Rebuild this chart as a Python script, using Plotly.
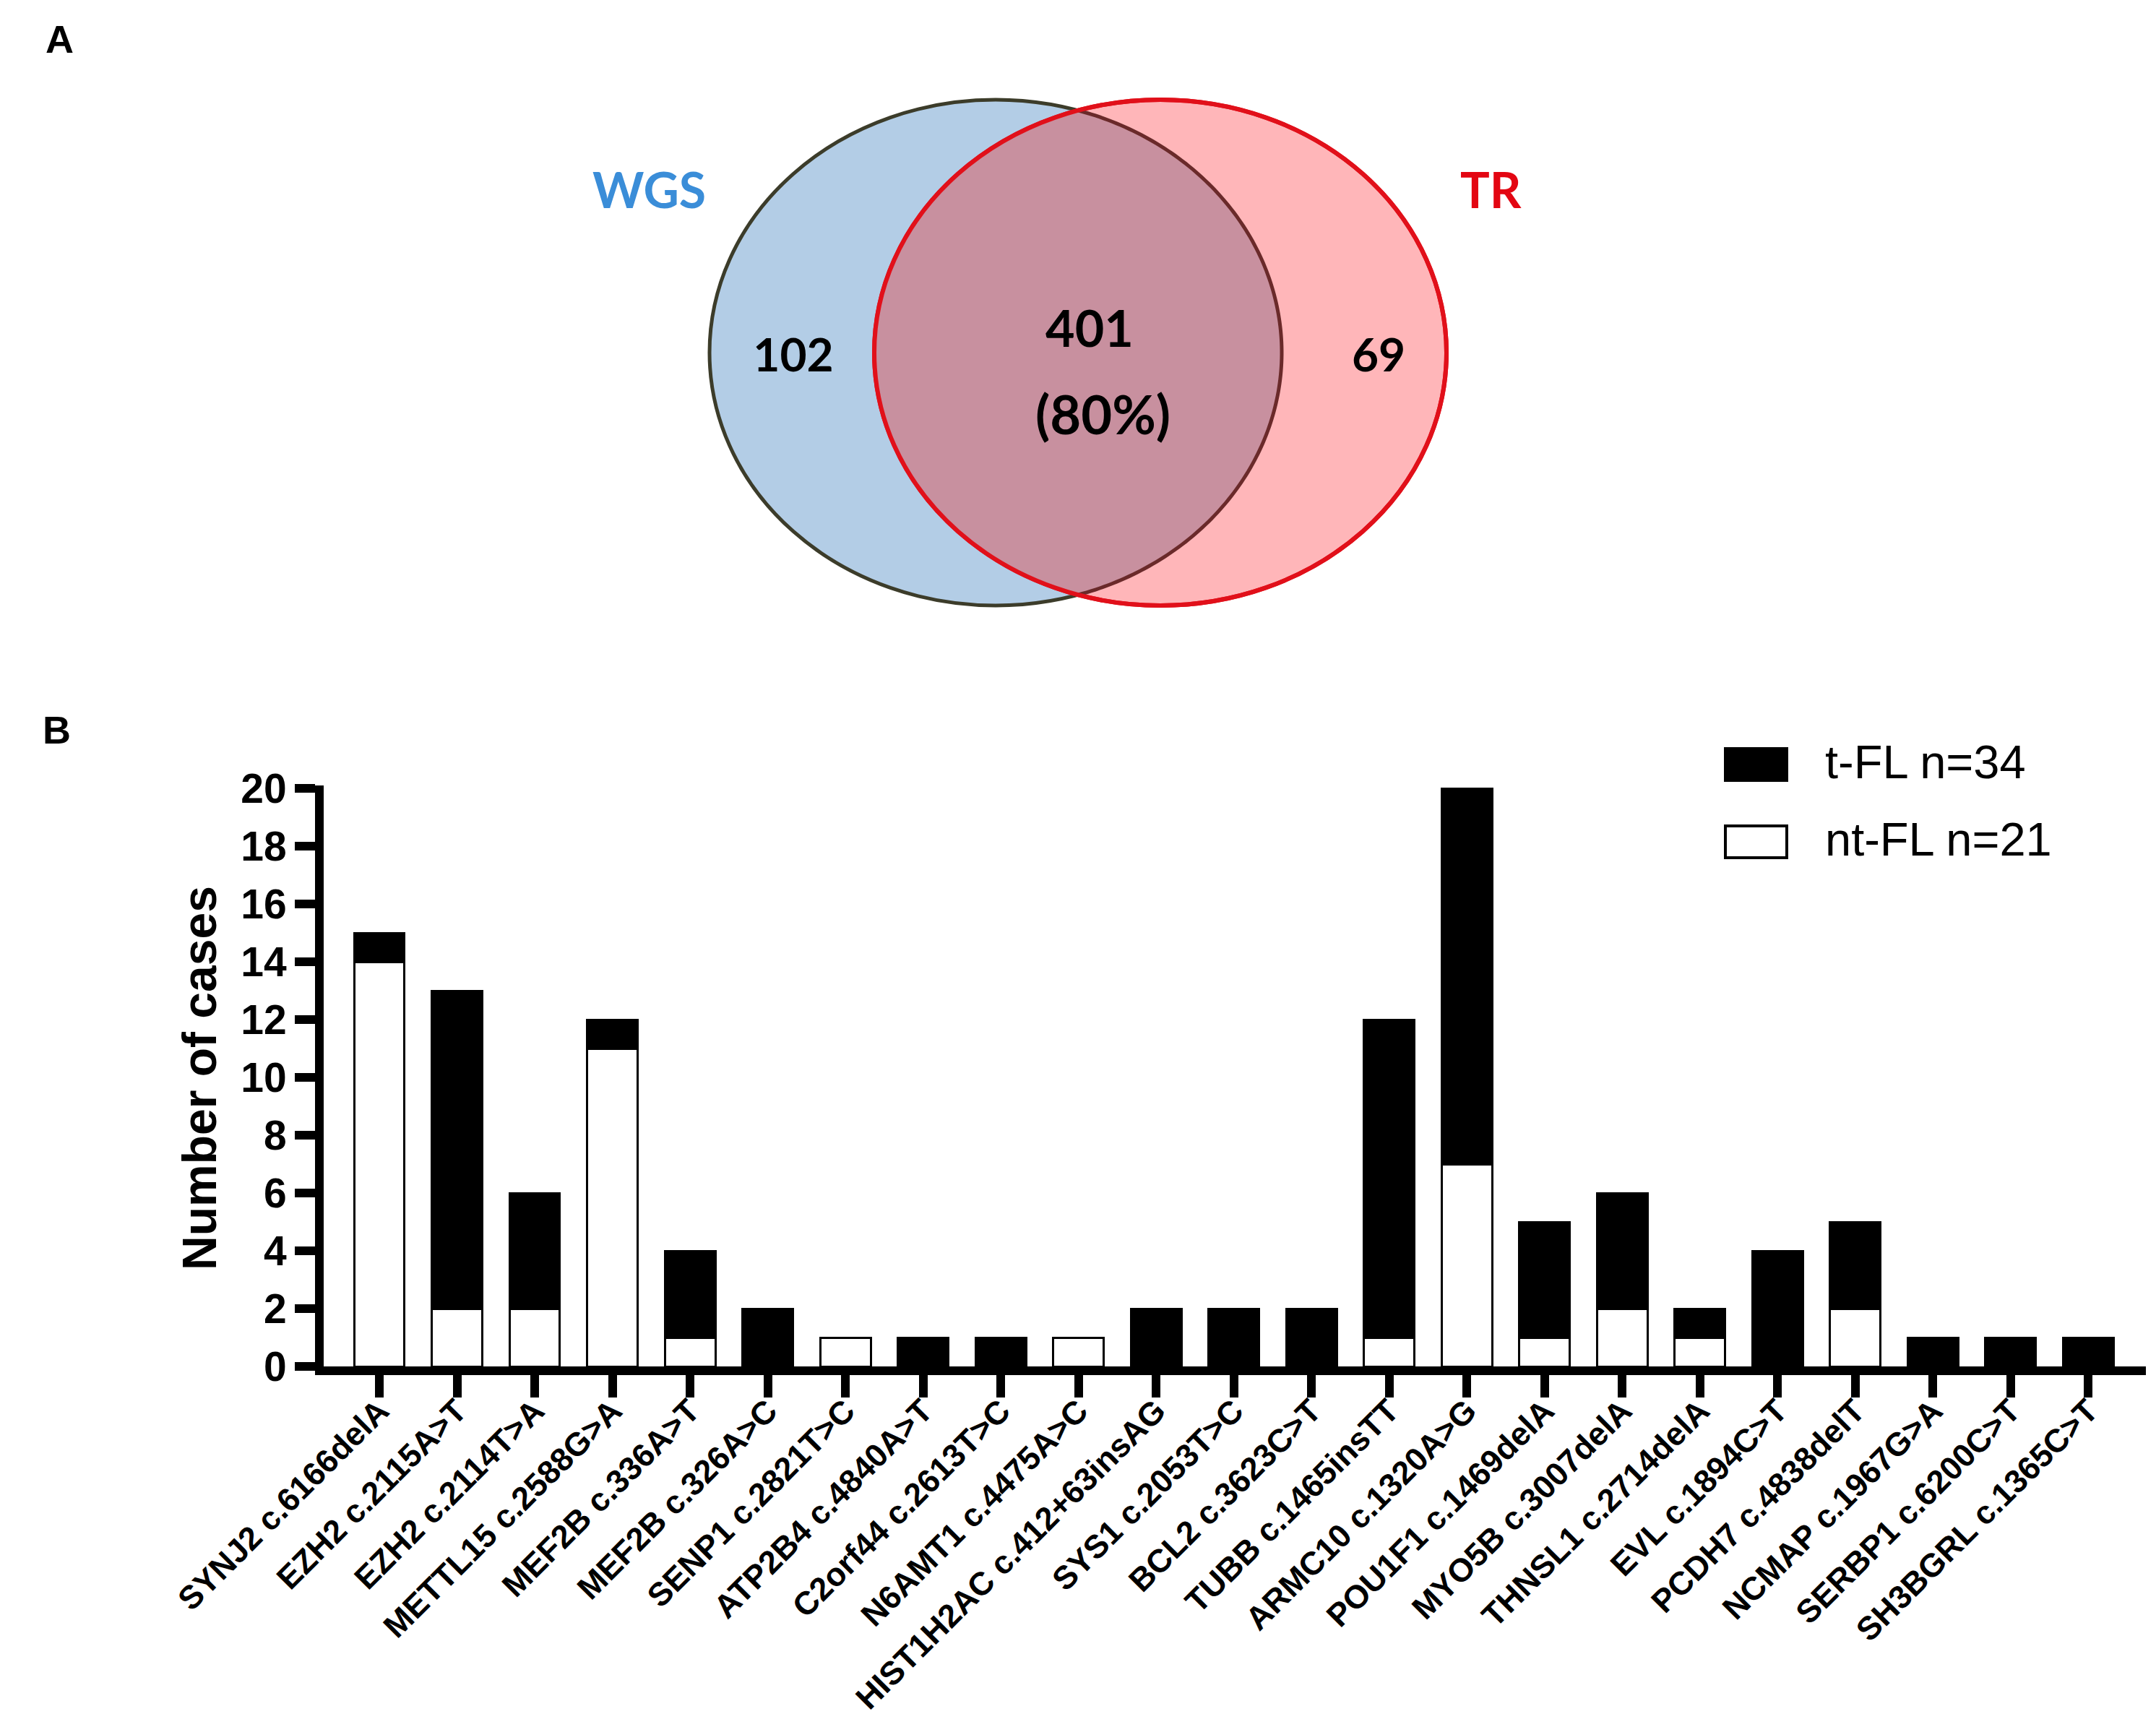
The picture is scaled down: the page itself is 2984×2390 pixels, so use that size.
import numpy as np
import plotly.graph_objects as go

W, H = 2984, 2390

# ---------------- data ----------------
mutations = [
    "SYNJ2 c.6166delA", "EZH2 c.2115A>T", "EZH2 c.2114T>A", "METTL15 c.2588G>A",
    "MEF2B c.336A>T", "MEF2B c.326A>C", "SENP1 c.2821T>C", "ATP2B4 c.4840A>T",
    "C2orf44 c.2613T>C", "N6AMT1 c.4475A>C", "HIST1H2AC c.412+63insAG",
    "SYS1 c.2053T>C", "BCL2 c.3623C>T", "TUBB c.1465insTT", "ARMC10 c.1320A>G",
    "POU1F1 c.1469delA", "MYO5B c.3007delA", "THNSL1 c.2714delA", "EVL c.1894C>T",
    "PCDH7 c.4838delT", "NCMAP c.1967G>A", "SERBP1 c.6200C>T", "SH3BGRL c.1365C>T",
]
nt_fl = [14, 2, 2, 11, 1, 0, 1, 0, 0, 1, 0, 0, 0, 1, 7, 1, 2, 1, 0, 2, 0, 0, 0]
t_fl = [1, 11, 4, 1, 3, 2, 0, 1, 1, 0, 2, 2, 2, 11, 13, 4, 4, 1, 4, 3, 1, 1, 1]
y_ticks = [0, 2, 4, 6, 8, 10, 12, 14, 16, 18, 20]
series_names = ["t-FL n=34", "nt-FL n=21"]

venn_sets = ["WGS", "TR"]
venn_counts = [102, 401, 69]  # WGS only, shared, TR only
shared_pct = round(100 * venn_counts[1] / (venn_counts[0] + venn_counts[1]))

# ---------------- styles ----------------
BAR_FONT = "Arial, 'Liberation Sans', sans-serif"
VENN_FONT = "Lato, Carlito, Calibri, sans-serif"
BLUE_FILL = "#B3CDE6"
PINK_FILL = "#FFB6B9"
LENS_FILL = "#C8909F"
OLIVE = "#3C3C2A"
RED = "#E1101A"


def px(xp):
    return xp / W


def py(yp):
    return 1 - yp / H


fig = go.Figure()

# ---------------- panel B bars ----------------
fig.add_trace(go.Bar(
    x=mutations, y=nt_fl, name=series_names[1], width=0.65,
    marker=dict(color="white", line=dict(color="black", width=3)),
    showlegend=False, xaxis="x", yaxis="y",
))
fig.add_trace(go.Bar(
    x=mutations, y=t_fl, name=series_names[0], width=0.65,
    marker=dict(color="black", line=dict(color="black", width=3)),
    showlegend=False, xaxis="x", yaxis="y",
))

# ---------------- panel A venn (pixel-unit axes) ----------------
cxL, cxR, cy, rx, ry = 1370, 1598, 480, 396, 350
xm = (cxL + cxR) / 2
t0 = np.arccos((xm - cxL) / rx)
tl = np.linspace(-t0, t0, 160)
tr = np.linspace(np.pi - t0, np.pi + t0, 160)
lx = cxL + rx * np.cos(tl)
ly = cy + ry * np.sin(tl)
rxs = cxR + rx * np.cos(tr)
rys = cy + ry * np.sin(tr)


def path_from(xs, ys, close=False):
    s = "M " + " L ".join(f"{a:.2f},{b:.2f}" for a, b in zip(xs, ys))
    return s + (" Z" if close else "")


lens_path = path_from(np.concatenate([lx, rxs]), np.concatenate([ly, rys]), close=True)
arc_path = path_from(lx, ly)

shapes = [
    dict(type="circle", xref="x2", yref="y2", layer="below",
         x0=cxL - rx, x1=cxL + rx, y0=cy - ry, y1=cy + ry,
         fillcolor=BLUE_FILL, line=dict(color=OLIVE, width=5)),
    dict(type="circle", xref="x2", yref="y2", layer="below",
         x0=cxR - rx, x1=cxR + rx, y0=cy - ry, y1=cy + ry,
         fillcolor=PINK_FILL, line=dict(color=RED, width=6)),
    dict(type="path", xref="x2", yref="y2", layer="below", path=lens_path,
         fillcolor=LENS_FILL, line=dict(width=0)),
    dict(type="path", xref="x2", yref="y2", layer="below", path=arc_path,
         line=dict(color="#6A2A2A", width=5)),
    dict(type="circle", xref="x2", yref="y2", layer="below",
         x0=cxR - rx, x1=cxR + rx, y0=cy - ry, y1=cy + ry,
         fillcolor="rgba(0,0,0,0)", line=dict(color=RED, width=6)),
]

fig.add_trace(go.Scatter(
    x=[1090, 1500, 1900], y=[490, 454, 490],
    text=[str(v) for v in venn_counts], mode="text",
    textfont=dict(family=VENN_FONT, size=[64, 70, 64], color="black", weight="bold"),
    textposition="middle center", hoverinfo="skip", showlegend=False,
    xaxis="x2", yaxis="y2",
))

annotations = [
    dict(x=1518, y=564, xref="x2", yref="y2", text=f"({shared_pct}%)", showarrow=False,
         xanchor="center", yanchor="middle",
         font=dict(family=VENN_FONT, size=74, color="black", weight="bold")),
    dict(x=890, y=253, xref="x2", yref="y2", text=venn_sets[0], showarrow=False,
         xanchor="center", yanchor="middle",
         font=dict(family=VENN_FONT, size=68, color="#3A8DD8", weight="bold")),
    dict(x=2055, y=253, xref="x2", yref="y2", text=venn_sets[1], showarrow=False,
         xanchor="center", yanchor="middle",
         font=dict(family=VENN_FONT, size=68, color="#E30612", weight="bold")),
    dict(x=px(74), y=py(46), xref="paper", yref="paper", text="A", showarrow=False,
         xanchor="center", yanchor="middle",
         font=dict(family=BAR_FONT, size=54, color="black", weight="bold")),
    dict(x=px(70), y=py(1002), xref="paper", yref="paper", text="B", showarrow=False,
         xanchor="center", yanchor="middle",
         font=dict(family=BAR_FONT, size=54, color="black", weight="bold")),
    dict(x=px(268), y=py(1484), xref="paper", yref="paper", text="Number of cases",
         textangle=-90, showarrow=False, xanchor="center", yanchor="middle",
         font=dict(family=BAR_FONT, size=66, color="black", weight="bold")),
]

# legend (manual, large swatches)
leg_rows = [(1050, "black", series_names[0]), (1157, "white", series_names[1])]
for yc, fc, lab in leg_rows:
    shapes.append(dict(type="rect", xref="paper", yref="paper",
                       x0=px(2380), x1=px(2465), y0=py(yc - 22), y1=py(yc + 22),
                       fillcolor=fc, line=dict(color="black", width=4)))
    annotations.append(dict(x=px(2516), y=py(yc - 4), xref="paper", yref="paper",
                            text=lab, showarrow=False, xanchor="left", yanchor="middle",
                            font=dict(family=BAR_FONT, size=65, color="black")))

fig.update_layout(
    template="none",
    width=W, height=H,
    margin=dict(l=0, r=0, t=0, b=0, autoexpand=False),
    paper_bgcolor="white", plot_bgcolor="rgba(0,0,0,0)",
    barmode="stack", bargap=0.35,
    shapes=shapes, annotations=annotations,
    xaxis=dict(
        domain=[px(440), px(2962)], anchor="y", type="category", automargin=False,
        range=[-0.716, 22.74], tickangle=-45, ticklabelstandoff=-26,
        tickfont=dict(family=BAR_FONT, size=45, color="black", weight="bold"),
        ticks="outside", ticklen=31, tickwidth=12, tickcolor="black",
        showline=True, linewidth=12, linecolor="black",
        showgrid=False, zeroline=False,
    ),
    yaxis=dict(
        domain=[py(1883), py(1079)], anchor="x", automargin=False,
        range=[0, 20.1], tickvals=y_ticks,
        tickfont=dict(family=BAR_FONT, size=57, color="black", weight="bold"),
        ticks="outside", ticklen=28, tickwidth=12, tickcolor="black",
        showline=True, linewidth=12, linecolor="black",
        showgrid=False, zeroline=False,
    ),
    xaxis2=dict(domain=[0, 1], range=[0, W], anchor="y2", visible=False,
                fixedrange=True, automargin=False),
    yaxis2=dict(domain=[py(908), 1], range=[908, 0], anchor="x2", visible=False,
                fixedrange=True, automargin=False),
)

fig.write_html("out.html")
